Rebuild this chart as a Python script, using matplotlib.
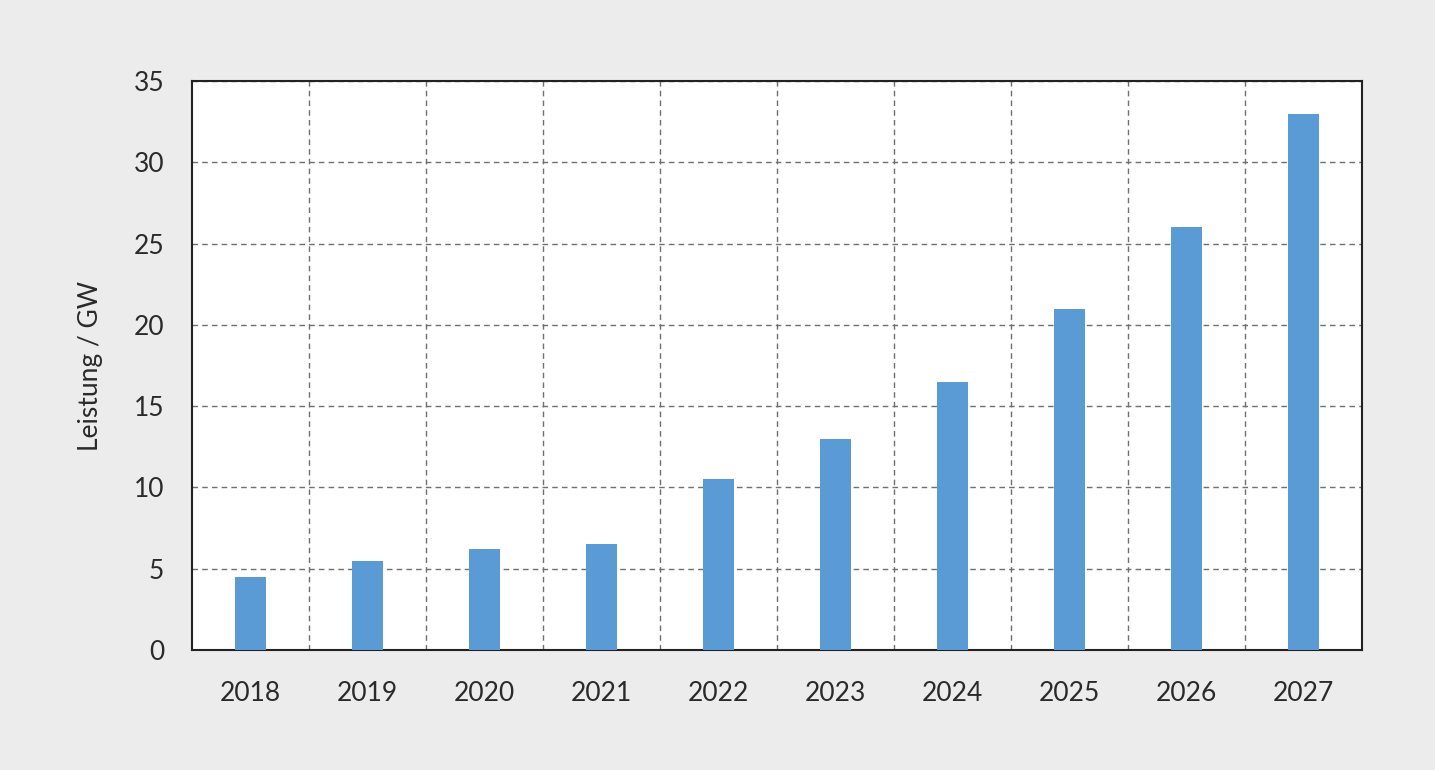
import matplotlib
matplotlib.use("Agg")
import matplotlib.pyplot as plt
import numpy as np

years = ["2018", "2019", "2020", "2021", "2022", "2023", "2024", "2025", "2026", "2027"]
leistung_gw = [4.5, 5.5, 6.2, 6.5, 10.5, 13.0, 16.5, 21.0, 26.0, 33.0]
y_ticks = [0, 5, 10, 15, 20, 25, 30, 35]

BG = "#ececec"
BAR = "#5b9bd5"
GRID = "#707070"
TXT = "#2a2a2a"

plt.rcParams.update({
    "font.family": ["Lato", "DejaVu Sans"],
    "font.weight": "normal",
})

fig = plt.figure(figsize=(14.35, 7.7), dpi=100, facecolor=BG)
ax = fig.add_axes([0.1338, 0.1558, 0.9491 - 0.1338, 0.8948 - 0.1558])
ax.set_facecolor("white")

x = np.arange(len(years))
ax.bar(x, leistung_gw, width=0.27, color=BAR, zorder=3)

ax.set_xlim(-0.5, len(years) - 0.5)
ax.set_ylim(0, 35)
ax.set_yticks(y_ticks)
ax.set_xticks(x)
ax.set_xticklabels(years)
ax.set_xticks(x[:-1] + 0.5, minor=True)

ax.grid(axis="y", which="major", color=GRID, ls=(0, (4, 3)), lw=1.0, zorder=1)
ax.grid(axis="x", which="minor", color=GRID, ls=(0, (4, 3)), lw=1.0, zorder=1)
ax.tick_params(which="both", length=0)
ax.tick_params(axis="x", pad=22, labelsize=19, labelcolor=TXT)
ax.tick_params(axis="y", pad=20, labelsize=19, labelcolor=TXT)

for s in ax.spines.values():
    s.set_color("#222222")
    s.set_linewidth(1.5)

ax.set_ylabel("Leistung / GW", fontsize=19, color=TXT, labelpad=22)

fig.savefig("out.png", dpi=100, facecolor=BG)
